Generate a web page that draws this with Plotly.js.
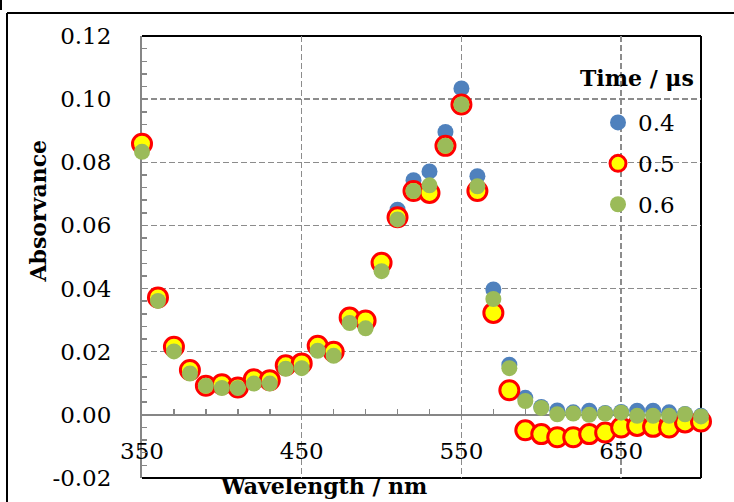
<!DOCTYPE html>
<html>
<head>
<meta charset="utf-8">
<script src="https://cdn.plot.ly/plotly-3.0.1.min.js"></script>
<style>
  html, body { margin: 0; padding: 0; background: #fff; }
  #chart { width: 734px; height: 502px; }
</style>
</head>
<body>
<div id="chart"></div>
<script>
// Transient absorption spectra at three delay times
const wavelength = [350, 360, 370, 380, 390, 400, 410, 420, 430, 440, 450, 460,
                    470, 480, 490, 500, 510, 520, 530, 540, 550, 560, 570, 580,
                    590, 600, 610, 620, 630, 640, 650, 660, 670, 680, 690, 700];

const abs04 = [0.0848, 0.0366, 0.0208, 0.0136, 0.0090, 0.0090, 0.0080, 0.0106, 0.0104, 0.0150, 0.0153, 0.0210,
               0.0192, 0.0300, 0.0287, 0.0470, 0.0650, 0.0743, 0.0771, 0.0896, 0.1034, 0.0756, 0.0397, 0.0159,
               0.0054, 0.0025, 0.0014, 0.0008, 0.0013, 0.0006, 0.0009, 0.0013, 0.0013, 0.0008, 0.0003, -0.0003];

const abs05 = [0.0859, 0.0372, 0.0216, 0.0142, 0.0092, 0.0097, 0.0087, 0.0113, 0.0110, 0.0157, 0.0163, 0.0219,
               0.0200, 0.0308, 0.0299, 0.0482, 0.0626, 0.0709, 0.0703, 0.0852, 0.0983, 0.0709, 0.0323, 0.0078,
               -0.0049, -0.0061, -0.0071, -0.0071, -0.0061, -0.0056, -0.0040, -0.0035, -0.0038, -0.0040, -0.0024, -0.0021];

const abs06 = [0.0833, 0.0361, 0.0201, 0.0131, 0.0092, 0.0085, 0.0085, 0.0099, 0.0099, 0.0146, 0.0148, 0.0203,
               0.0187, 0.0291, 0.0274, 0.0455, 0.0619, 0.0709, 0.0727, 0.0852, 0.0983, 0.0724, 0.0367, 0.0148,
               0.0044, 0.0022, 0.0002, 0.0004, 0.0000, 0.0004, 0.0007, -0.0003, -0.0003, -0.0003, 0.0002, -0.0005];

const seriesNames = ['0.4', '0.5', '0.6'];

const xRange = [350, 700];
const yRange = [-0.02, 0.12];
const yTickVals = [-0.02, 0.00, 0.02, 0.04, 0.06, 0.08, 0.10, 0.12];
const yTickText = ['-0.02', '0.00', '0.02', '0.04', '0.06', '0.08', '0.10', '0.12'];

const xTitle = 'Wavelength / nm';
const yTitle = 'Absorvance';
const legendTitle = 'Time / \u03bcs';

// page geometry helpers (pixel -> paper coordinates)
const W = 734, H = 502;
const M = { l: 142, r: 33, t: 36, b: 24 };
const PW = W - M.l - M.r, PH = H - M.t - M.b;
const px = x => (x - M.l) / PW;
const py = y => (H - M.b - y) / PH;

const SERIF = 'DejaVu Serif';
const GRID = '#8c8c8c';
const AXIS = '#868686';

const traces = [
  { x: wavelength, y: abs04, name: seriesNames[0], legendgroup: 'g1',
    marker: { size: 16, color: '#4F81BD' } },
  { x: wavelength, y: abs05, name: seriesNames[1], legendgroup: 'g2',
    marker: { size: 19, color: '#FFFF00', line: { color: '#FF0000', width: 3 } } },
  { x: wavelength, y: abs06, name: seriesNames[2], legendgroup: 'g3',
    marker: { size: 16, color: '#9BBB59' } }
].map(t => Object.assign({ type: 'scatter', mode: 'markers', cliponaxis: false }, t));

const frameLine = (x0, y0, x1, y1, w, color) => ({
  type: 'line', xref: 'paper', yref: 'paper', layer: 'below',
  x0, y0, x1, y1, line: { color: color || '#000', width: w }
});

const layout = {
  width: W, height: H,
  margin: M,
  paper_bgcolor: '#fff',
  plot_bgcolor: 'rgba(0,0,0,0)',
  showlegend: true,
  xaxis: {
    range: xRange, tick0: 350, dtick: 100,
    ticks: 'inside', ticklen: 5, tickwidth: 1.5, tickcolor: AXIS,
    showline: true, linecolor: AXIS, linewidth: 2,
    anchor: 'free', position: (0 - yRange[0]) / (yRange[1] - yRange[0]),
    showgrid: true, gridcolor: GRID, gridwidth: 1.5, griddash: '6px,3px',
    minor: { tick0: 350, dtick: 20, ticks: 'inside', ticklen: 5, tickwidth: 1.5, tickcolor: AXIS, showgrid: false },
    tickfont: { family: SERIF, size: 23, color: '#000' },
    ticklabelstandoff: 16,
    zeroline: false, layer: 'below traces'
  },
  yaxis: {
    range: yRange, tickvals: yTickVals, ticktext: yTickText,
    ticks: 'inside', ticklen: 5, tickwidth: 1.5, tickcolor: AXIS,
    showline: true, linecolor: AXIS, linewidth: 2,
    showgrid: true, gridcolor: GRID, gridwidth: 1.5, griddash: '6px,3px',
    minor: { tick0: -0.02, dtick: 0.004, ticks: 'inside', ticklen: 5, tickwidth: 1.5, tickcolor: AXIS, showgrid: false },
    tickfont: { family: SERIF, size: 23, color: '#000' },
    ticklabelstandoff: 24,
    zeroline: false, layer: 'below traces'
  },
  legend: {
    x: px(598), y: py(101), xanchor: 'left', yanchor: 'top',
    bgcolor: 'rgba(0,0,0,0)', borderwidth: 0,
    font: { family: SERIF, size: 23, color: '#000' },
    traceorder: 'grouped', tracegroupgap: 8
  },
  annotations: [
    { text: yTitle, xref: 'paper', yref: 'paper', x: px(37), y: py(211.5),
      textangle: -90, xanchor: 'center', yanchor: 'middle', showarrow: false,
      font: { family: SERIF, size: 22, color: '#000', weight: 'bold' } },
    { text: xTitle, xref: 'paper', yref: 'paper', x: px(323.5), y: py(486),
      xanchor: 'center', yanchor: 'middle', showarrow: false,
      font: { family: SERIF, size: 22, color: '#000', weight: 'bold' } },
    { text: legendTitle, xref: 'paper', yref: 'paper', x: px(636.5), y: py(78),
      xanchor: 'center', yanchor: 'middle', showarrow: false,
      font: { family: SERIF, size: 22, color: '#000', weight: 'bold' } }
  ],
  shapes: [
    // plot-area border (top, right, bottom)
    frameLine(0, 1, 1, 1, 2),
    frameLine(1, 0, 1, 1, 2),
    frameLine(0, 0, 1, 0, 2),
    // chart-area frame
    frameLine(px(7), py(13), px(740), py(13), 2),
    frameLine(px(7), py(13), px(7), py(510), 2),
    frameLine(px(1), py(0), px(1), py(10), 2)
  ]
};

Plotly.newPlot('chart', traces, layout, { staticPlot: true, displayModeBar: false });
</script>
</body>
</html>
